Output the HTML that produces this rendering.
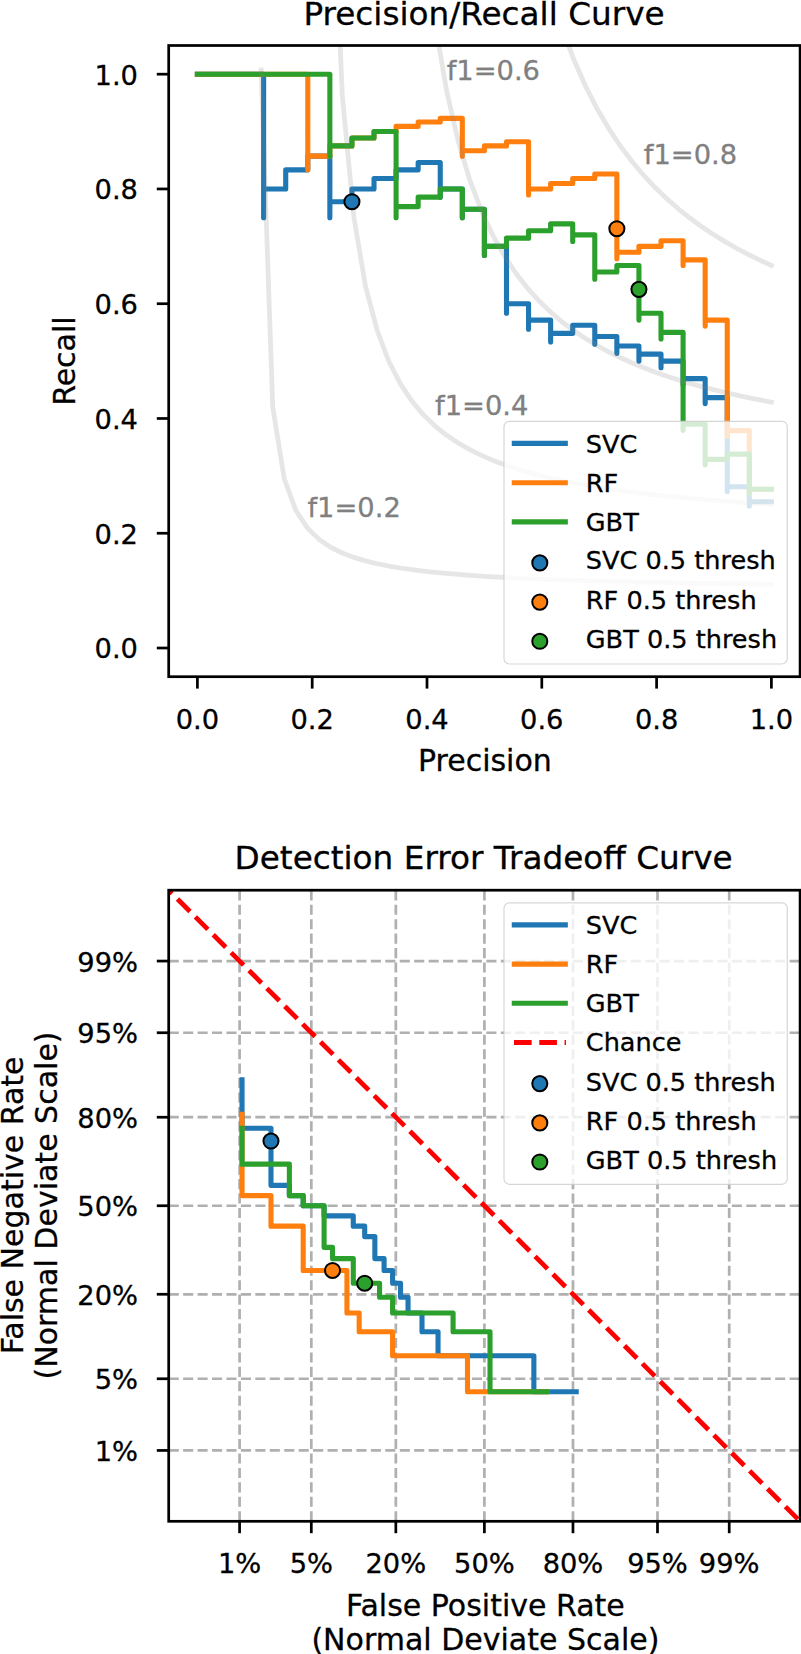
<!DOCTYPE html>
<html lang="en"><head><meta charset="utf-8"><title>Precision/Recall and DET curves</title>
<style>html,body{margin:0;padding:0;background:#fff}body{width:801px;height:1654px;overflow:hidden}</style></head>
<body>
<svg width="801" height="1654" viewBox="0 0 801 1654" style="display:block;font-family:'DejaVu Sans','Liberation Sans',sans-serif">
<style>text{stroke:#000;stroke-width:0.3px}text.g{stroke:#808080}</style>
<rect width="801" height="1654" fill="#fff"/>
<defs><clipPath id="c1"><rect x="168.7" y="45.5" width="631.4000000000001" height="631.2"/></clipPath><clipPath id="c2"><rect x="168.7" y="890.2" width="631.4000000000001" height="631.0999999999999"/></clipPath></defs>
<text x="307.51" y="516.67" font-size="27.3" fill="#808080" class="g">f1=0.2</text>
<text x="435.08" y="414.55" font-size="27.3" fill="#808080" class="g">f1=0.4</text>
<text x="446.68" y="79.81" font-size="27.3" fill="#808080" class="g">f1=0.6</text>
<text x="643.83" y="163.96" font-size="27.3" fill="#808080" class="g">f1=0.8</text>
<g clip-path="url(#c1)">
<polyline points="197.40,74.19 219.48,74.19 241.55,74.19 263.63,74.19 263.63,217.65 263.63,188.95 285.71,188.95 285.71,169.83 307.78,169.83 307.78,156.16 329.86,156.16 329.86,217.65 329.86,201.71 351.94,201.71 351.94,188.95 374.02,188.95 374.02,178.52 396.09,178.52 396.09,169.83 418.17,169.83 418.17,162.47 440.25,162.47 440.25,197.15 440.25,188.95 462.32,188.95 462.32,217.65 462.32,209.21 484.40,209.21 484.40,255.40 484.40,246.34 506.48,246.34 506.48,313.28 506.48,303.72 528.55,303.72 528.55,329.22 528.55,320.11 550.63,320.11 550.63,341.97 550.63,333.33 572.71,333.33 572.71,325.24 594.78,325.24 594.78,344.22 594.78,336.51 616.86,336.51 616.86,353.35 616.86,346.00 638.94,346.00 638.94,361.10 638.94,354.10 661.02,354.10 661.02,367.77 661.02,361.10 683.09,361.10 683.09,385.01 683.09,378.67 705.17,378.67 705.17,403.61 705.17,397.62 727.25,397.62 727.25,491.51 727.25,486.82 749.32,486.82 749.32,505.97 749.32,501.74 771.40,501.74" fill="none" stroke="#1f77b4" stroke-width="5.1" stroke-linecap="square" stroke-linejoin="round"/>
<polyline points="197.40,74.19 219.48,74.19 241.55,74.19 263.63,74.19 285.71,74.19 307.78,74.19 307.78,169.83 307.78,156.16 329.86,156.16 329.86,145.92 351.94,145.92 351.94,137.95 374.02,137.95 374.02,131.57 396.09,131.57 396.09,126.36 418.17,126.36 418.17,122.01 440.25,122.01 440.25,118.33 462.32,118.33 462.32,156.16 462.32,150.70 484.40,150.70 484.40,145.92 506.48,145.92 506.48,141.70 528.55,141.70 528.55,194.99 528.55,188.95 550.63,188.95 550.63,183.49 572.71,183.49 572.71,178.52 594.78,178.52 594.78,173.99 616.86,173.99 616.86,258.63 616.86,252.27 638.94,252.27 638.94,246.34 661.02,246.34 661.02,240.78 683.09,240.78 683.09,265.46 683.09,259.84 705.17,259.84 705.17,326.11 705.17,320.11 727.25,320.11 727.25,436.14 727.25,430.65 749.32,430.65 749.32,493.76 749.32,489.29 771.40,489.29" fill="none" stroke="#ff7f0e" stroke-width="5.1" stroke-linecap="square" stroke-linejoin="round"/>
<polyline points="197.40,74.19 219.48,74.19 241.55,74.19 263.63,74.19 285.71,74.19 307.78,74.19 329.86,74.19 329.86,156.16 329.86,145.92 351.94,145.92 351.94,137.95 374.02,137.95 374.02,131.57 396.09,131.57 396.09,217.65 396.09,206.61 418.17,206.61 418.17,197.15 440.25,197.15 440.25,188.95 462.32,188.95 462.32,217.65 462.32,209.21 484.40,209.21 484.40,255.40 484.40,246.34 506.48,246.34 506.48,238.14 528.55,238.14 528.55,230.69 550.63,230.69 550.63,223.88 572.71,223.88 572.71,241.55 572.71,234.86 594.78,234.86 594.78,279.13 594.78,272.06 616.86,272.06 616.86,265.46 638.94,265.46 638.94,320.11 638.94,313.28 661.02,313.28 661.02,339.03 661.02,332.41 683.09,332.41 683.09,430.35 683.09,424.32 705.17,424.32 705.17,464.71 705.17,459.36 727.25,459.36 727.25,454.15 749.32,454.15 749.32,493.76 749.32,489.29 771.40,489.29" fill="none" stroke="#2ca02c" stroke-width="5.1" stroke-linecap="square" stroke-linejoin="round"/>
<polyline points="261.13,69.94 272.72,406.86 284.32,479.05 295.92,510.52 307.51,528.14 319.11,539.41 330.71,547.24 342.31,552.99 353.90,557.39 365.50,560.87 377.10,563.70 388.69,566.03 400.29,567.99 411.89,569.66 423.49,571.10 435.08,572.36 446.68,573.46 458.28,574.44 469.87,575.31 481.47,576.10 493.07,576.80 504.67,577.45 516.26,578.03 527.86,578.57 539.46,579.06 551.05,579.51 562.65,579.93 574.25,580.32 585.85,580.68 597.44,581.01 609.04,581.33 620.64,581.62 632.23,581.90 643.83,582.16 655.43,582.41 667.03,582.64 678.62,582.86 690.22,583.06 701.82,583.26 713.41,583.45 725.01,583.62 736.61,583.79 748.21,583.95 759.80,584.11 771.40,584.25" fill="none" stroke="#808080" stroke-opacity="0.2" stroke-width="4.77" stroke-linecap="square" stroke-linejoin="round"/>
<polyline points="319.11,-1373.00 330.71,-178.58 342.31,95.63 353.90,217.32 365.50,286.06 377.10,330.23 388.69,361.01 400.29,383.69 411.89,401.09 423.49,414.86 435.08,426.03 446.68,435.28 458.28,443.05 469.87,449.69 481.47,455.41 493.07,460.40 504.67,464.79 516.26,468.68 527.86,472.15 539.46,475.27 551.05,478.09 562.65,480.64 574.25,482.97 585.85,485.10 597.44,487.06 609.04,488.86 620.64,490.53 632.23,492.08 643.83,493.52 655.43,494.86 667.03,496.11 678.62,497.29 690.22,498.39 701.82,499.43 713.41,500.41 725.01,501.33 736.61,502.20 748.21,503.03 759.80,503.81 771.40,504.55" fill="none" stroke="#808080" stroke-opacity="0.2" stroke-width="4.77" stroke-linecap="square" stroke-linejoin="round"/>
<polyline points="377.10,-3478.10 388.69,-1076.61 400.29,-489.99 411.89,-225.12 423.49,-74.25 435.08,23.17 446.68,91.28 458.28,141.58 469.87,180.24 481.47,210.89 493.07,235.77 504.67,256.39 516.26,273.74 527.86,288.56 539.46,301.34 551.05,312.50 562.65,322.31 574.25,331.01 585.85,338.78 597.44,345.76 609.04,352.06 620.64,357.78 632.23,362.99 643.83,367.77 655.43,372.15 667.03,376.20 678.62,379.94 690.22,383.41 701.82,386.63 713.41,389.64 725.01,392.46 736.61,395.09 748.21,397.57 759.80,399.89 771.40,402.09" fill="none" stroke="#808080" stroke-opacity="0.2" stroke-width="4.77" stroke-linecap="square" stroke-linejoin="round"/>
<polyline points="435.08,-6101.42 446.68,-2259.34 458.28,-1266.44 469.87,-810.68 481.47,-548.99 493.07,-379.17 504.67,-260.06 516.26,-171.90 527.86,-104.02 539.46,-50.14 551.05,-6.33 562.65,29.99 574.25,60.59 585.85,86.72 597.44,109.29 609.04,128.99 620.64,146.33 632.23,161.70 643.83,175.44 655.43,187.78 667.03,198.92 678.62,209.04 690.22,218.27 701.82,226.72 713.41,234.48 725.01,241.64 736.61,248.27 748.21,254.41 759.80,260.13 771.40,265.46" fill="none" stroke="#808080" stroke-opacity="0.2" stroke-width="4.77" stroke-linecap="square" stroke-linejoin="round"/>
<circle cx="351.94" cy="201.71" r="7.55" fill="#1f77b4" stroke="#000" stroke-width="2.0"/>
<circle cx="616.86" cy="228.68" r="7.55" fill="#ff7f0e" stroke="#000" stroke-width="2.0"/>
<circle cx="638.94" cy="289.37" r="7.55" fill="#2ca02c" stroke="#000" stroke-width="2.0"/>
</g>
<line x1="197.40" y1="676.7" x2="197.40" y2="688.6" stroke="#000" stroke-width="2.725"/>
<line x1="168.7" y1="648.01" x2="156.79999999999998" y2="648.01" stroke="#000" stroke-width="2.725"/>
<text x="197.40" y="728.90" font-size="27.3" text-anchor="middle">0.0</text>
<text x="138.0" y="658.36" font-size="27.3" text-anchor="end">0.0</text>
<line x1="312.20" y1="676.7" x2="312.20" y2="688.6" stroke="#000" stroke-width="2.725"/>
<line x1="168.7" y1="533.25" x2="156.79999999999998" y2="533.25" stroke="#000" stroke-width="2.725"/>
<text x="312.20" y="728.90" font-size="27.3" text-anchor="middle">0.2</text>
<text x="138.0" y="543.60" font-size="27.3" text-anchor="end">0.2</text>
<line x1="427.00" y1="676.7" x2="427.00" y2="688.6" stroke="#000" stroke-width="2.725"/>
<line x1="168.7" y1="418.48" x2="156.79999999999998" y2="418.48" stroke="#000" stroke-width="2.725"/>
<text x="427.00" y="728.90" font-size="27.3" text-anchor="middle">0.4</text>
<text x="138.0" y="428.83" font-size="27.3" text-anchor="end">0.4</text>
<line x1="541.80" y1="676.7" x2="541.80" y2="688.6" stroke="#000" stroke-width="2.725"/>
<line x1="168.7" y1="303.72" x2="156.79999999999998" y2="303.72" stroke="#000" stroke-width="2.725"/>
<text x="541.80" y="728.90" font-size="27.3" text-anchor="middle">0.6</text>
<text x="138.0" y="314.07" font-size="27.3" text-anchor="end">0.6</text>
<line x1="656.60" y1="676.7" x2="656.60" y2="688.6" stroke="#000" stroke-width="2.725"/>
<line x1="168.7" y1="188.95" x2="156.79999999999998" y2="188.95" stroke="#000" stroke-width="2.725"/>
<text x="656.60" y="728.90" font-size="27.3" text-anchor="middle">0.8</text>
<text x="138.0" y="199.30" font-size="27.3" text-anchor="end">0.8</text>
<line x1="771.40" y1="676.7" x2="771.40" y2="688.6" stroke="#000" stroke-width="2.725"/>
<line x1="168.7" y1="74.19" x2="156.79999999999998" y2="74.19" stroke="#000" stroke-width="2.725"/>
<text x="771.40" y="728.90" font-size="27.3" text-anchor="middle">1.0</text>
<text x="138.0" y="84.54" font-size="27.3" text-anchor="end">1.0</text>
<rect x="168.7" y="45.5" width="631.4000000000001" height="631.2" fill="none" stroke="#000" stroke-width="2.725" stroke-linejoin="miter"/>
<text x="484.00" y="25.30" font-size="32.7" text-anchor="middle">Precision/Recall Curve</text>
<text x="484.9" y="770.70" font-size="30.0" text-anchor="middle">Precision</text>
<text transform="translate(75,361.10) rotate(-90)" font-size="30.0" text-anchor="middle">Recall</text>
<rect x="504.0" y="421.3" width="283.30" height="242.70" rx="5.5" ry="5.5" fill="#fff" fill-opacity="0.8" stroke="#ccc" stroke-opacity="0.8" stroke-width="1.2"/>
<line x1="514.3" y1="443.4" x2="565.3" y2="443.4" stroke="#1f77b4" stroke-width="5.1" stroke-linecap="square"/>
<text x="585.8" y="453" font-size="25.57" fill="#000">SVC</text>
<line x1="514.3" y1="482.7" x2="565.3" y2="482.7" stroke="#ff7f0e" stroke-width="5.1" stroke-linecap="square"/>
<text x="585.8" y="492" font-size="25.57" fill="#000">RF</text>
<line x1="514.3" y1="521.9" x2="565.3" y2="521.9" stroke="#2ca02c" stroke-width="5.1" stroke-linecap="square"/>
<text x="585.8" y="531" font-size="25.57" fill="#000">GBT</text>
<circle cx="539.80" cy="562.9" r="7.55" fill="#1f77b4" stroke="#000" stroke-width="2.0"/>
<text x="585.8" y="569" font-size="25.57" fill="#000">SVC 0.5 thresh</text>
<circle cx="539.80" cy="602.1" r="7.55" fill="#ff7f0e" stroke="#000" stroke-width="2.0"/>
<text x="585.8" y="609" font-size="25.57" fill="#000">RF 0.5 thresh</text>
<circle cx="539.80" cy="641.3" r="7.55" fill="#2ca02c" stroke="#000" stroke-width="2.0"/>
<text x="585.8" y="648" font-size="25.57" fill="#000">GBT 0.5 thresh</text>
<g clip-path="url(#c2)">
<line x1="239.59" y1="1521.3" x2="239.59" y2="890.2" stroke="#b0b0b0" stroke-width="2.725" stroke-dasharray="10.08 4.36"/>
<line x1="168.7" y1="1450.44" x2="800.1" y2="1450.44" stroke="#b0b0b0" stroke-width="2.725" stroke-dasharray="10.08 4.36"/>
<line x1="311.31" y1="1521.3" x2="311.31" y2="890.2" stroke="#b0b0b0" stroke-width="2.725" stroke-dasharray="10.08 4.36"/>
<line x1="168.7" y1="1378.76" x2="800.1" y2="1378.76" stroke="#b0b0b0" stroke-width="2.725" stroke-dasharray="10.08 4.36"/>
<line x1="395.83" y1="1521.3" x2="395.83" y2="890.2" stroke="#b0b0b0" stroke-width="2.725" stroke-dasharray="10.08 4.36"/>
<line x1="168.7" y1="1294.27" x2="800.1" y2="1294.27" stroke="#b0b0b0" stroke-width="2.725" stroke-dasharray="10.08 4.36"/>
<line x1="484.40" y1="1521.3" x2="484.40" y2="890.2" stroke="#b0b0b0" stroke-width="2.725" stroke-dasharray="10.08 4.36"/>
<line x1="168.7" y1="1205.75" x2="800.1" y2="1205.75" stroke="#b0b0b0" stroke-width="2.725" stroke-dasharray="10.08 4.36"/>
<line x1="572.97" y1="1521.3" x2="572.97" y2="890.2" stroke="#b0b0b0" stroke-width="2.725" stroke-dasharray="10.08 4.36"/>
<line x1="168.7" y1="1117.23" x2="800.1" y2="1117.23" stroke="#b0b0b0" stroke-width="2.725" stroke-dasharray="10.08 4.36"/>
<line x1="657.49" y1="1521.3" x2="657.49" y2="890.2" stroke="#b0b0b0" stroke-width="2.725" stroke-dasharray="10.08 4.36"/>
<line x1="168.7" y1="1032.74" x2="800.1" y2="1032.74" stroke="#b0b0b0" stroke-width="2.725" stroke-dasharray="10.08 4.36"/>
<line x1="729.21" y1="1521.3" x2="729.21" y2="890.2" stroke="#b0b0b0" stroke-width="2.725" stroke-dasharray="10.08 4.36"/>
<line x1="168.7" y1="961.06" x2="800.1" y2="961.06" stroke="#b0b0b0" stroke-width="2.725" stroke-dasharray="10.08 4.36"/>
<polyline points="242.04,1079.70 242.04,1128.30 270.98,1128.30 270.98,1185.34 289.36,1185.34 289.36,1195.59 303.21,1195.59 303.21,1205.75 324.09,1205.75 324.09,1215.91 353.28,1215.91 353.28,1226.16 364.69,1226.16 364.69,1236.61 374.85,1236.61 374.85,1258.59 384.08,1258.59 384.08,1270.45 392.59,1270.45 392.59,1283.20 400.54,1283.20 400.54,1297.20 408.04,1297.20 408.04,1313.05 422.00,1313.05 422.00,1331.80 438.04,1331.80 438.04,1355.75 533.87,1355.75 533.87,1391.80 576.21,1391.80" fill="none" stroke="#1f77b4" stroke-width="5.1" stroke-linecap="square" stroke-linejoin="round"/>
<polyline points="242.04,1114.30 242.04,1195.59 270.98,1195.59 270.98,1226.16 303.21,1226.16 303.21,1270.45 346.95,1270.45 346.95,1313.05 359.17,1313.05 359.17,1331.80 392.59,1331.80 392.59,1355.75 467.49,1355.75 467.49,1391.80 546.80,1391.80" fill="none" stroke="#ff7f0e" stroke-width="5.1" stroke-linecap="square" stroke-linejoin="round"/>
<polyline points="242.04,1128.30 242.04,1164.13 289.36,1164.13 289.36,1195.59 303.21,1195.59 303.21,1205.75 324.09,1205.75 324.09,1247.37 332.52,1247.37 332.52,1258.59 353.28,1258.59 353.28,1283.20 379.57,1283.20 379.57,1297.20 392.59,1297.20 392.59,1313.05 453.08,1313.05 453.08,1331.80 490.02,1331.80 490.02,1391.80 546.80,1391.80" fill="none" stroke="#2ca02c" stroke-width="5.1" stroke-linecap="square" stroke-linejoin="round"/>
<line x1="141.73" y1="863.23" x2="830.1" y2="1551.3" stroke="#ff0000" stroke-width="4.771" stroke-dasharray="17.65 7.63" stroke-dashoffset="0"/>
<circle cx="270.98" cy="1141.05" r="7.55" fill="#1f77b4" stroke="#000" stroke-width="2.0"/>
<circle cx="332.52" cy="1270.45" r="7.55" fill="#ff7f0e" stroke="#000" stroke-width="2.0"/>
<circle cx="364.69" cy="1283.20" r="7.55" fill="#2ca02c" stroke="#000" stroke-width="2.0"/>
</g>
<line x1="239.59" y1="1521.3" x2="239.59" y2="1533.2" stroke="#000" stroke-width="2.725"/>
<line x1="168.7" y1="1450.44" x2="156.79999999999998" y2="1450.44" stroke="#000" stroke-width="2.725"/>
<text x="239.59" y="1573.30" font-size="27.3" text-anchor="middle">1%</text>
<text x="138.0" y="1461.04" font-size="27.3" text-anchor="end">1%</text>
<line x1="311.31" y1="1521.3" x2="311.31" y2="1533.2" stroke="#000" stroke-width="2.725"/>
<line x1="168.7" y1="1378.76" x2="156.79999999999998" y2="1378.76" stroke="#000" stroke-width="2.725"/>
<text x="311.31" y="1573.30" font-size="27.3" text-anchor="middle">5%</text>
<text x="138.0" y="1389.36" font-size="27.3" text-anchor="end">5%</text>
<line x1="395.83" y1="1521.3" x2="395.83" y2="1533.2" stroke="#000" stroke-width="2.725"/>
<line x1="168.7" y1="1294.27" x2="156.79999999999998" y2="1294.27" stroke="#000" stroke-width="2.725"/>
<text x="395.83" y="1573.30" font-size="27.3" text-anchor="middle">20%</text>
<text x="138.0" y="1304.87" font-size="27.3" text-anchor="end">20%</text>
<line x1="484.40" y1="1521.3" x2="484.40" y2="1533.2" stroke="#000" stroke-width="2.725"/>
<line x1="168.7" y1="1205.75" x2="156.79999999999998" y2="1205.75" stroke="#000" stroke-width="2.725"/>
<text x="484.40" y="1573.30" font-size="27.3" text-anchor="middle">50%</text>
<text x="138.0" y="1216.35" font-size="27.3" text-anchor="end">50%</text>
<line x1="572.97" y1="1521.3" x2="572.97" y2="1533.2" stroke="#000" stroke-width="2.725"/>
<line x1="168.7" y1="1117.23" x2="156.79999999999998" y2="1117.23" stroke="#000" stroke-width="2.725"/>
<text x="572.97" y="1573.30" font-size="27.3" text-anchor="middle">80%</text>
<text x="138.0" y="1127.83" font-size="27.3" text-anchor="end">80%</text>
<line x1="657.49" y1="1521.3" x2="657.49" y2="1533.2" stroke="#000" stroke-width="2.725"/>
<line x1="168.7" y1="1032.74" x2="156.79999999999998" y2="1032.74" stroke="#000" stroke-width="2.725"/>
<text x="657.49" y="1573.30" font-size="27.3" text-anchor="middle">95%</text>
<text x="138.0" y="1043.34" font-size="27.3" text-anchor="end">95%</text>
<line x1="729.21" y1="1521.3" x2="729.21" y2="1533.2" stroke="#000" stroke-width="2.725"/>
<line x1="168.7" y1="961.06" x2="156.79999999999998" y2="961.06" stroke="#000" stroke-width="2.725"/>
<text x="729.21" y="1573.30" font-size="27.3" text-anchor="middle">99%</text>
<text x="138.0" y="971.66" font-size="27.3" text-anchor="end">99%</text>
<rect x="168.7" y="890.2" width="631.4000000000001" height="631.0999999999999" fill="none" stroke="#000" stroke-width="2.725" stroke-linejoin="miter"/>
<text x="483.60" y="869.40" font-size="32.7" text-anchor="middle">Detection Error Tradeoff Curve</text>
<text x="485.4" y="1616.00" font-size="30.0" text-anchor="middle">False Positive Rate</text>
<text x="485.4" y="1650.20" font-size="30.0" text-anchor="middle">(Normal Deviate Scale)</text>
<text transform="translate(22.6,1205.35) rotate(-90)" font-size="30.0" text-anchor="middle">False Negative Rate</text>
<text transform="translate(57.1,1205.45) rotate(-90)" font-size="30.0" text-anchor="middle">(Normal Deviate Scale)</text>
<rect x="504.0" y="902.8" width="283.30" height="281.50" rx="5.5" ry="5.5" fill="#fff" fill-opacity="0.8" stroke="#ccc" stroke-opacity="0.8" stroke-width="1.2"/>
<line x1="514.3" y1="924.9" x2="565.3" y2="924.9" stroke="#1f77b4" stroke-width="5.1" stroke-linecap="square"/>
<text x="585.8" y="934" font-size="25.57" fill="#000">SVC</text>
<line x1="514.3" y1="964.1" x2="565.3" y2="964.1" stroke="#ff7f0e" stroke-width="5.1" stroke-linecap="square"/>
<text x="585.8" y="973" font-size="25.57" fill="#000">RF</text>
<line x1="514.3" y1="1003.3" x2="565.3" y2="1003.3" stroke="#2ca02c" stroke-width="5.1" stroke-linecap="square"/>
<text x="585.8" y="1012" font-size="25.57" fill="#000">GBT</text>
<line x1="514.0" y1="1042.5" x2="566.0" y2="1042.5" stroke="#ff0000" stroke-width="4.771" stroke-dasharray="17.65 7.63"/>
<text x="585.8" y="1051" font-size="25.57" fill="#000">Chance</text>
<circle cx="539.80" cy="1083.6" r="7.55" fill="#1f77b4" stroke="#000" stroke-width="2.0"/>
<text x="585.8" y="1091" font-size="25.57" fill="#000">SVC 0.5 thresh</text>
<circle cx="539.80" cy="1122.9" r="7.55" fill="#ff7f0e" stroke="#000" stroke-width="2.0"/>
<text x="585.8" y="1130" font-size="25.57" fill="#000">RF 0.5 thresh</text>
<circle cx="539.80" cy="1162.0" r="7.55" fill="#2ca02c" stroke="#000" stroke-width="2.0"/>
<text x="585.8" y="1169" font-size="25.57" fill="#000">GBT 0.5 thresh</text>
</svg>
</body></html>
